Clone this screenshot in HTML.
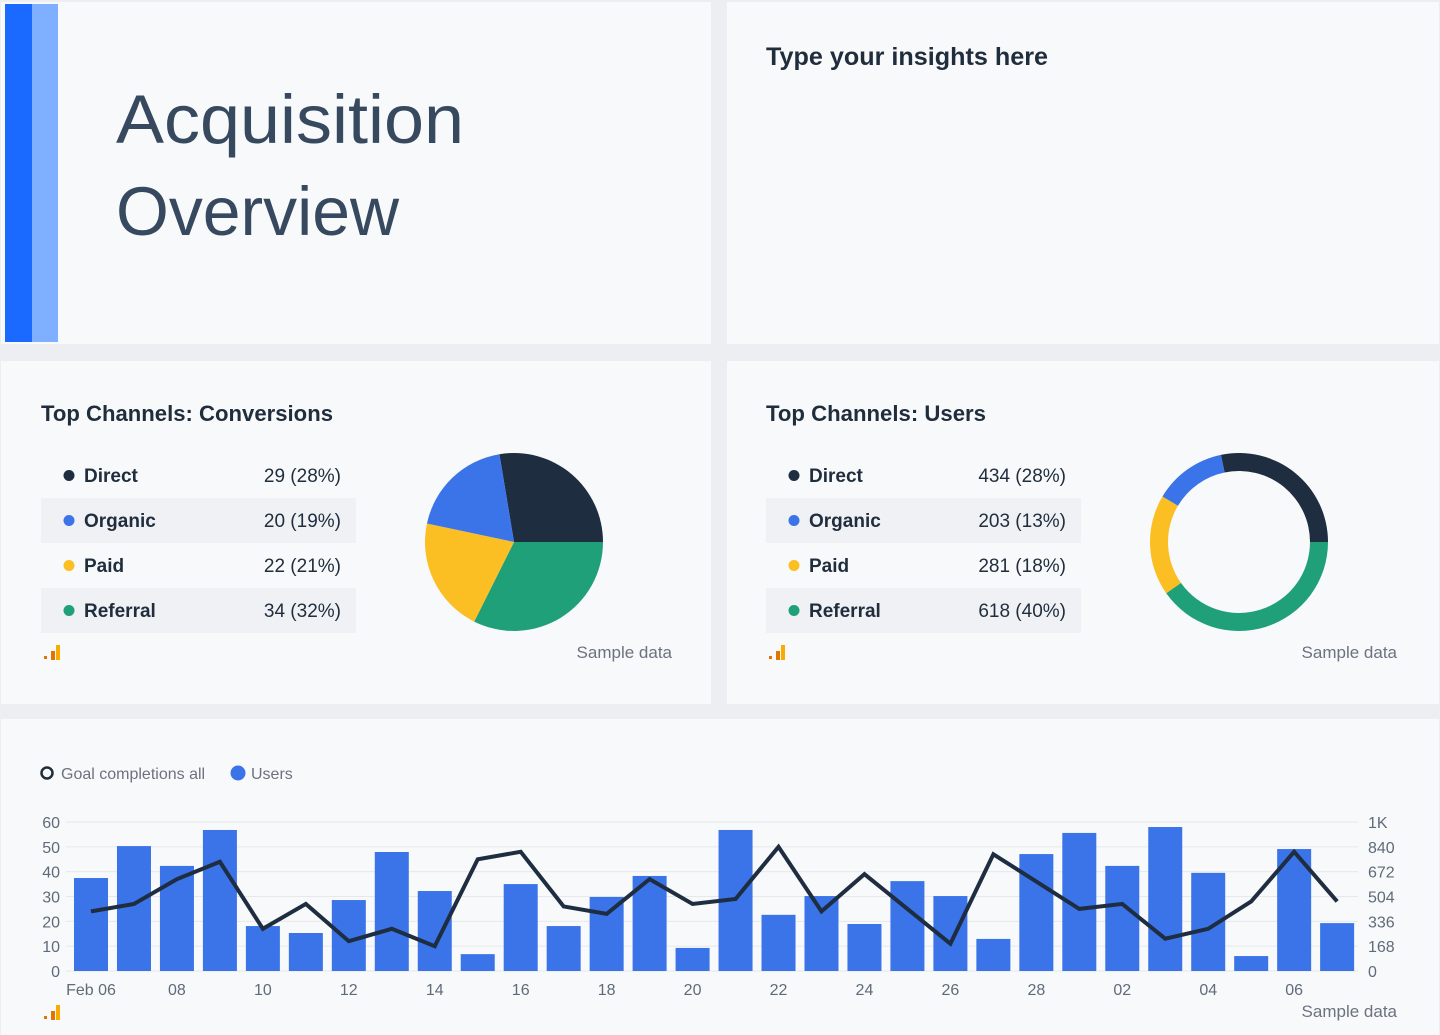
<!DOCTYPE html>
<html><head><meta charset="utf-8"><style>
html,body{margin:0;padding:0;background:#eceef1;}
svg{display:block;font-family:"Liberation Sans",sans-serif;}
</style></head><body>
<svg width="1440" height="1035" viewBox="0 0 1440 1035">
<rect x="0" y="0" width="1440" height="1035" fill="#eceef1"/>
<!-- cards -->
<rect x="1" y="2" width="710" height="342" fill="#f8f9fa"/>
<rect x="727" y="2" width="712" height="342" fill="#f8f9fa"/>
<rect x="1" y="361" width="710" height="343" fill="#f8f9fa"/>
<rect x="727" y="361" width="712" height="343" fill="#f8f9fa"/>
<rect x="1" y="719" width="1438" height="316" fill="#f8f9fa"/>

<rect x="5" y="4" width="27" height="338" fill="#1a6aff"/>
<rect x="32" y="4" width="26" height="338" fill="#7fb0ff"/>
<text x="116" y="143" font-size="69" fill="#37495f" textLength="348" lengthAdjust="spacingAndGlyphs">Acquisition</text>
<text x="116" y="235" font-size="69" fill="#37495f" textLength="283" lengthAdjust="spacingAndGlyphs">Overview</text>
<text x="766" y="65" font-size="25" font-weight="bold" fill="#1f2d3d" textLength="282" lengthAdjust="spacingAndGlyphs">Type your insights here</text>

<!-- conversions -->
<text x="41" y="421" font-size="22" font-weight="bold" fill="#1f2d3d" textLength="292" lengthAdjust="spacingAndGlyphs">Top Channels: Conversions</text>
<g id="convTable"></g>
<g id="convPie"></g>
<text x="672" y="658" font-size="17" fill="#6b7280" text-anchor="end">Sample data</text>

<!-- users -->
<text x="766" y="421" font-size="22" font-weight="bold" fill="#1f2d3d" textLength="220" lengthAdjust="spacingAndGlyphs">Top Channels: Users</text>
<g id="userTable"></g>
<g id="userDonut"></g>
<text x="1397" y="658" font-size="17" fill="#6b7280" text-anchor="end">Sample data</text>

<!-- analytics icons -->
<g transform="translate(0,0)"><rect x="44" y="656" width="3" height="3" fill="#e37400"/><rect x="51" y="651" width="4" height="9" fill="#e37400"/><rect x="56" y="645" width="4" height="15" fill="#f9ab00"/></g>
<g transform="translate(725,0)"><rect x="44" y="656" width="3" height="3" fill="#e37400"/><rect x="51" y="651" width="4" height="9" fill="#e37400"/><rect x="56" y="645" width="4" height="15" fill="#f9ab00"/></g>
<g transform="translate(0,360)"><rect x="44" y="656" width="3" height="3" fill="#e37400"/><rect x="51" y="651" width="4" height="9" fill="#e37400"/><rect x="56" y="645" width="4" height="15" fill="#f9ab00"/></g>

<!-- trend legend -->
<g><circle cx="47" cy="773" r="5.5" fill="none" stroke="#1f2d3d" stroke-width="2.5"/><text x="61" y="779" font-size="16" fill="#6b7280">Goal completions all</text></g>
<g><circle cx="238" cy="773" r="7.5" fill="#3b73e8"/><text x="251" y="779" font-size="16" fill="#6b7280">Users</text></g>
<g id="trend"></g>
<text x="1397" y="1017" font-size="17" fill="#6b7280" text-anchor="end">Sample data</text>
</svg>
<script>
const channels = ["Direct","Organic","Paid","Referral"];
const channelColors = ["#1e2d40","#3b73e8","#fbbf24","#1fa078"];
const conversions = [29,20,22,34];
const users = [434,203,281,618];
const pieOrder = [0,3,2,1];

const days = ["Feb 06","07","08","09","10","11","12","13","14","15","16","17","18","19","20","21","22","23","24","25","26","27","28","01","02","03","04","05","06","07"];
const usersSeries = [629,845,711,954,304,257,480,805,541,114,588,304,501,643,156,954,380,507,318,608,507,217,791,934,711,974,664,101,825,324];
const goalSeries = [24,27,37,44,17,27,12,17,10,45,48,26,23,37,27,29,50,24,39,25,11,47,36,25,27,13,17,28,48,28];
const leftTicks = [0,10,20,30,40,50,60];
const rightTicks = [0,168,336,504,672,840,1008];
const rightTickLabels = ["0","168","336","504","672","840","1K"];

const NS="http://www.w3.org/2000/svg";
function mk(tag,attrs,parent){const e=document.createElementNS(NS,tag);for(const k in attrs)e.setAttribute(k,attrs[k]);parent.appendChild(e);return e;}

function table(gid,vals,x0,numX){
  const g=document.getElementById(gid);
  const tot=vals.reduce((a,b)=>a+b,0);
  channels.forEach((c,i)=>{
    const y=453+i*45;
    const row=mk('g',{},g);
    
    
    if(i%2===1) mk('rect',{x:x0,y:y,width:315,height:45,fill:'#eff1f4'},row);
    mk('circle',{cx:x0+28,cy:y+22.5,r:5.5,fill:channelColors[i]},row);
    const t=mk('text',{x:x0+43,y:y+29,'font-size':19,'font-weight':'bold',fill:'#1f2d3d'},row);t.textContent=c;
    const v=mk('text',{x:numX,y:y+29,'font-size':19,fill:'#1f2d3d','text-anchor':'end'},row);
    v.textContent=vals[i]+'  ('+Math.round(vals[i]/tot*100)+'%)';
    v.setAttribute('xml:space','preserve');
  });
}
table('convTable',conversions,41,341);
table('userTable',users,766,1066);

function arcs(gid,vals,cx,cy,r,ri,name){
  const g=document.getElementById(gid);
  const tot=vals.reduce((a,b)=>a+b,0);
  let a=-vals[0]/tot*2*Math.PI;
  pieOrder.forEach(i=>{
    const da=vals[i]/tot*2*Math.PI, a2=a+da, large=da>Math.PI?1:0;
    const p=(ang,rr)=>[cx+rr*Math.cos(ang),cy+rr*Math.sin(ang)];
    const [x1,y1]=p(a,r),[x2,y2]=p(a2,r);
    let d;
    if(ri>0){const [x3,y3]=p(a2,ri),[x4,y4]=p(a,ri);
      d=`M${x1},${y1}A${r},${r} 0 ${large} 1 ${x2},${y2}L${x3},${y3}A${ri},${ri} 0 ${large} 0 ${x4},${y4}Z`;}
    else d=`M${cx},${cy}L${x1},${y1}A${r},${r} 0 ${large} 1 ${x2},${y2}Z`;
    const s=mk('path',{d:d,fill:channelColors[i]},g);
    
    
    a=a2;
  });
}
arcs('convPie',conversions,514,542,89,0,'conversions');
arcs('userDonut',users,1239,542,89,71,'users');

// trend chart
const g=document.getElementById('trend');
const y0=971, yTop=822, xFirst=91, step=42.97, bw=34;
const yL=v=>y0-(v/60)*(y0-yTop);
const yR=v=>y0-(v/1008)*(y0-yTop);
const xc=i=>xFirst+i*step;
leftTicks.forEach((t,k)=>{
  const gl=mk('line',{x1:66,x2:1358,y1:yL(t),y2:yL(t),stroke:'#e6e8eb','stroke-width':1},g);
  
  
  const lt=mk('text',{x:60,y:yL(t)+6,'font-size':16,fill:'#5f6b7a','text-anchor':'end'},g);lt.textContent=t;
  
  
  const rt=mk('text',{x:1368,y:yR(rightTicks[k])+6,'font-size':16,fill:'#5f6b7a'},g);rt.textContent=rightTickLabels[k];
  
  
});
usersSeries.forEach((v,i)=>{
  const b=mk('rect',{x:xc(i)-bw/2,y:yR(v),width:bw,height:y0-yR(v),fill:'#3b73e8'},g);
  
  
});
days.forEach((d,i)=>{
  if(i%2) return;
  const t=mk('text',{x:xc(i),y:995,'font-size':16,fill:'#5f6b7a','text-anchor':'middle'},g);t.textContent=d;
  
  
});
const line=mk('polyline',{points:goalSeries.map((v,i)=>xc(i)+','+yL(v)).join(' '),fill:'none',stroke:'#1e2d40','stroke-width':4,'stroke-linejoin':'miter'},g);


</script>
</body></html>
